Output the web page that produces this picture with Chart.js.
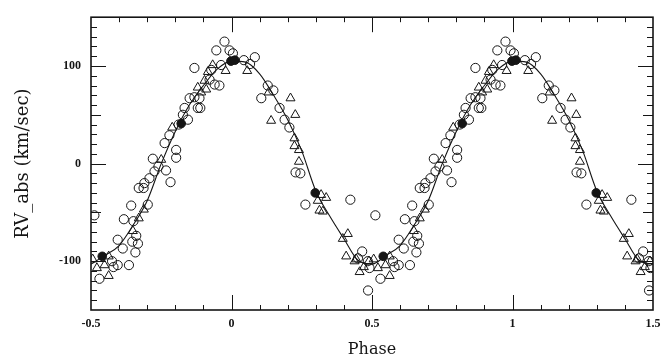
<!DOCTYPE html>
<html><head><meta charset="utf-8">
<script src="https://cdn.jsdelivr.net/npm/chart.js@4.4.1/dist/chart.umd.min.js"></script>
<style>html,body{margin:0;padding:0;background:#fff}#wrap{width:668px;height:362px}</style>
</head><body><div id="wrap"><canvas id="c" width="668" height="362"></canvas></div>
<script>
// Base phase (0..1) observations; the plot shows each one folded over -0.5..1.5
const circlePhase = [0.005,0.044,0.066,0.083,0.106,0.129,0.149,0.171,0.189,0.206,0.228,0.245,0.263,0.423,0.450,0.465,0.485,0.486,0.491,0.512,0.530,0.575,0.580,0.595,0.635,0.595,0.613,0.617,0.643,0.651,0.661,0.647,0.667,0.658,0.702,0.670,0.687,0.690,0.708,0.726,0.740,0.767,0.783,0.720,0.762,0.779,0.803,0.803,0.812,0.827,0.833,0.845,0.851,0.868,0.880,0.889,0.886,0.922,0.940,0.957,0.928,0.868,0.946,0.975,0.993,0.963];
const circleRV    = [113,106,102,109,67,80,75,57,45,37,-9,-10,-42,-37,-97,-90,-100,-130,-107,-53,-118,-100,-106,-104,-104,-78,-87,-57,-43,-59,-74,-80,-82,-91,-42,-25,-25,-20,-15,-8,-3,-7,-19,5,21,29,14,6,40,50,57,45,67,68,57,57,67,86,81,80,96,98,116,125,116,101];
const trianglePhase = [0.056,0.132,0.141,0.210,0.227,0.224,0.224,0.240,0.240,0.307,0.313,0.325,0.319,0.337,0.396,0.414,0.408,0.438,0.444,0.456,0.471,0.489,0.506,0.521,0.548,0.563,0.563,0.649,0.670,0.688,0.750,0.789,0.880,0.892,0.904,0.910,0.916,0.933,0.979];
const triangleRV    = [95,73,44,67,50,26,18,14,2,-38,-48,-49,-32,-35,-77,-72,-95,-100,-98,-111,-106,-100,-98,-107,-104,-95,-115,-69,-56,-47,4,37,78,73,85,76,94,101,95];
const filledPhase = [0.998,0.012,0.298,0.540,0.821];
const filledRV    = [105,106,-30,-95,41];
// Fitted curve, one period
const curvePhase = [0,0.05,0.10,0.15,0.20,0.25,0.30,0.35,0.40,0.45,0.50,0.55,0.60,0.65,0.70,0.75,0.80,0.85,0.90,0.95,1.0];
const curveRV    = [105,104,92,70,45,13,-28,-54,-77,-99,-103,-94,-84,-63,-38,0,33,60,80,97,105];
const xTickValues = [-0.5,0,0.5,1,1.5];
const yTickValues = [-100,0,100];

function fold(ph, vals){
  const pts=[];
  ph.forEach((p,i)=>{[p-1,p,p+1].forEach(q=>{ if(q>=-0.5-1e-9 && q<=1.5+1e-9) pts.push({x:q,y:vals[i]}); });});
  return pts;
}
const curvePts = fold(curvePhase.slice(0,-1), curveRV.slice(0,-1)).sort((a,b)=>a.x-b.x);

const INK = '#151515';
const framePlugin = {
  id:'frame',
  afterDatasetsDraw(chart){
    const {ctx, chartArea:a, scales:{x,y}} = chart;
    ctx.save();
    ctx.strokeStyle = INK;
    ctx.lineWidth = 1;
    ctx.beginPath();
    for(let k=-4;k<=14;k++){
      const px = Math.round(x.getPixelForValue(k/10))+0.5;
      const len = (k%5===0)?15:5;
      ctx.moveTo(px,a.bottom); ctx.lineTo(px,a.bottom-len);
      ctx.moveTo(px,a.top); ctx.lineTo(px,a.top+len);
    }
    for(let v=-140; v<=140; v+=10){
      const py = Math.round(y.getPixelForValue(v))+0.5;
      const len = (v%100===0)?15:((v%50===0)?10:6);
      ctx.moveTo(a.left,py); ctx.lineTo(a.left+len,py);
      ctx.moveTo(a.right,py); ctx.lineTo(a.right-len,py);
    }
    ctx.stroke();
    ctx.lineWidth = 1.6;
    ctx.strokeRect(a.left, a.top, a.right-a.left, a.bottom-a.top);
    ctx.restore();
  }
};

new Chart(document.getElementById('c'), {
  type:'scatter',
  data:{datasets:[
    {data:curvePts, showLine:true, pointRadius:0, borderColor:INK, borderWidth:1.1, cubicInterpolationMode:'monotone', fill:false, order:3},
    {data:fold(circlePhase,circleRV), pointStyle:'circle', pointRadius:4.6, borderColor:INK, backgroundColor:'rgba(0,0,0,0)', borderWidth:1, order:2},
    {data:fold(trianglePhase,triangleRV), pointStyle:'triangle', pointRadius:5.2, borderColor:INK, backgroundColor:'rgba(0,0,0,0)', borderWidth:1, order:2},
    {data:fold(filledPhase,filledRV), pointStyle:'circle', pointRadius:4.3, borderColor:INK, backgroundColor:INK, borderWidth:1, order:1}
  ]},
  options:{
    responsive:false, animation:false, devicePixelRatio:1,
    layout:{padding:{top:5,right:15,left:0,bottom:0}},
    plugins:{legend:{display:false}, tooltip:{enabled:false}},
    scales:{
      x:{type:'linear', min:-0.5, max:1.5,
        afterBuildTicks:s=>{s.ticks = xTickValues.map(v=>({value:v}));},
        afterFit:s=>{s.height = 52;},
        grid:{display:false, drawTicks:false}, border:{display:false},
        ticks:{autoSkip:false, maxRotation:0, padding:7, color:INK, font:{family:'Liberation Serif', size:12, weight:'bold'}, callback:v=>String(v)},
        title:{display:true, text:'Phase', color:INK, font:{family:'DejaVu Serif', size:16}, padding:{top:0,bottom:3}}
      },
      y:{type:'linear', min:-150, max:150,
        afterBuildTicks:s=>{s.ticks = yTickValues.map(v=>({value:v}));},
        afterFit:s=>{s.width = 91;},
        grid:{display:false, drawTicks:false}, border:{display:false},
        ticks:{autoSkip:false, padding:10, color:INK, font:{family:'Liberation Serif', size:12, weight:'bold'}, callback:v=>String(v)},
        title:{display:true, text:'RV_abs (km/sec)', color:INK, font:{family:'DejaVu Serif', size:18}, padding:{top:13,bottom:0}}
      }
    }
  },
  plugins:[framePlugin]
});
</script></body></html>
